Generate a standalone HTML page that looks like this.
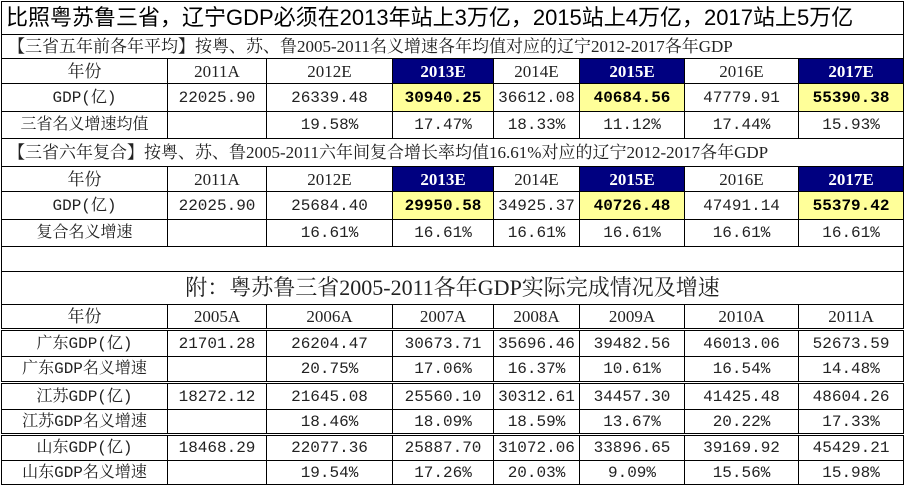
<!DOCTYPE html>
<html><head><meta charset="utf-8"><style>
body{margin:0;background:#fff;width:904px;height:484px;overflow:hidden}
table{width:902px;border-collapse:collapse;table-layout:fixed;position:absolute;left:1px;top:1px;font-family:"Liberation Serif","Noto Serif CJK SC",serif;font-size:17px;color:#222}
td{border:1px solid #000;text-align:center;padding:0;white-space:nowrap;overflow:hidden;line-height:1}
.t{font-family:"Liberation Sans","Noto Sans CJK SC",sans-serif;font-size:22px;text-align:left;padding-left:4px;color:#000}
.s{font-size:17px;text-align:left;padding-left:6px}
.a{font-size:22px}
.h{background:#000080;color:#fff;font-weight:bold}
.y{background:#ffff99;font-weight:bold;color:#000}
.d td{border-bottom:3px double #000}
.n{font-family:"Liberation Mono","Noto Serif CJK SC",monospace;font-size:16px}
</style></head><body>
<table>
<colgroup><col style="width:166px"><col style="width:99px"><col style="width:126px"><col style="width:101px"><col style="width:86px"><col style="width:105px"><col style="width:114px"><col style="width:105px"></colgroup>
<tr style="height:33px"><td colspan="8" class="t">比照粤苏鲁三省，辽宁GDP必须在2013年站上3万亿，2015站上4万亿，2017站上5万亿</td></tr>
<tr style="height:24px"><td colspan="8" class="s"><b>【</b>三省五年前各年平均<b>】</b>按粤、苏、鲁2005-2011名义增速各年均值对应的辽宁2012-2017各年GDP</td></tr>
<tr style="height:25px"><td>年份</td><td>2011A</td><td>2012E</td><td class="h">2013E</td><td>2014E</td><td class="h">2015E</td><td>2016E</td><td class="h">2017E</td></tr>
<tr style="height:28px" class="n"><td>GDP(亿)</td><td>22025.90</td><td>26339.48</td><td class="y">30940.25</td><td>36612.08</td><td class="y">40684.56</td><td>47779.91</td><td class="y">55390.38</td></tr>
<tr style="height:27px" class="n"><td>三省名义增速均值</td><td></td><td>19.58%</td><td>17.47%</td><td>18.33%</td><td>11.12%</td><td>17.44%</td><td>15.93%</td></tr>
<tr style="height:28px"><td colspan="8" class="s"><b>【</b>三省六年复合<b>】</b>按粤、苏、鲁2005-2011六年间复合增长率均值16.61%对应的辽宁2012-2017各年GDP</td></tr>
<tr style="height:25px"><td>年份</td><td>2011A</td><td>2012E</td><td class="h">2013E</td><td>2014E</td><td class="h">2015E</td><td>2016E</td><td class="h">2017E</td></tr>
<tr style="height:28px" class="n"><td>GDP(亿)</td><td>22025.90</td><td>25684.40</td><td class="y">29950.58</td><td>34925.37</td><td class="y">40726.48</td><td>47491.14</td><td class="y">55379.42</td></tr>
<tr style="height:27px" class="n"><td>复合名义增速</td><td></td><td>16.61%</td><td>16.61%</td><td>16.61%</td><td>16.61%</td><td>16.61%</td><td>16.61%</td></tr>
<tr style="height:25px"><td colspan="8"></td></tr>
<tr style="height:33px"><td colspan="8" class="a">附：粤苏鲁三省2005-2011各年GDP实际完成情况及增速</td></tr>
<tr style="height:25px" class="d"><td>年份</td><td>2005A</td><td>2006A</td><td>2007A</td><td>2008A</td><td>2009A</td><td>2010A</td><td>2011A</td></tr>
<tr style="height:27px" class="n"><td>广东GDP(亿)</td><td>21701.28</td><td>26204.47</td><td>30673.71</td><td>35696.46</td><td>39482.56</td><td>46013.06</td><td>52673.59</td></tr>
<tr style="height:26px" class="n d"><td>广东GDP名义增速</td><td></td><td>20.75%</td><td>17.06%</td><td>16.37%</td><td>10.61%</td><td>16.54%</td><td>14.48%</td></tr>
<tr style="height:27px" class="n"><td>江苏GDP(亿)</td><td>18272.12</td><td>21645.08</td><td>25560.10</td><td>30312.61</td><td>34457.30</td><td>41425.48</td><td>48604.26</td></tr>
<tr style="height:25px" class="n d"><td>江苏GDP名义增速</td><td></td><td>18.46%</td><td>18.09%</td><td>18.59%</td><td>13.67%</td><td>20.22%</td><td>17.33%</td></tr>
<tr style="height:26px" class="n"><td>山东GDP(亿)</td><td>18468.29</td><td>22077.36</td><td>25887.70</td><td>31072.06</td><td>33896.65</td><td>39169.92</td><td>45429.21</td></tr>
<tr style="height:24px" class="n"><td>山东GDP名义增速</td><td></td><td>19.54%</td><td>17.26%</td><td>20.03%</td><td>9.09%</td><td>15.56%</td><td>15.98%</td></tr>
</table>
</body></html>
